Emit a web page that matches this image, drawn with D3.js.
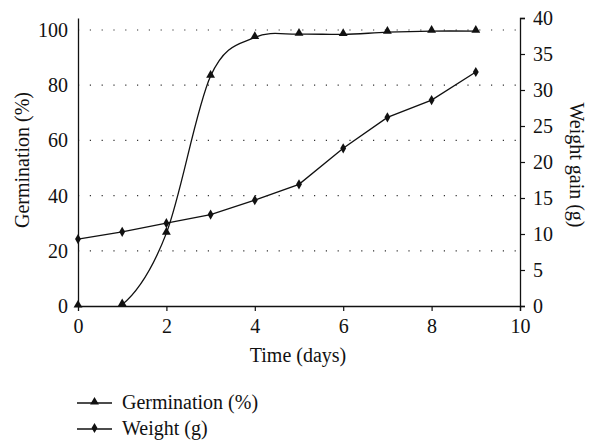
<!DOCTYPE html>
<html>
<head>
<meta charset="utf-8">
<script src="https://cdn.jsdelivr.net/npm/d3@7/dist/d3.min.js"></script>
<style>
  body { margin: 0; background: #fff; }
  text { font-family: "Liberation Serif", "DejaVu Serif", serif; fill: #111; }
</style>
</head>
<body>
<svg id="chart" width="589" height="441"></svg>
<script>
// data
var days = [0, 1, 2, 3, 4, 5, 6, 7, 8, 9];
var germination = [0, 0.5, 26.4, 83.3, 97.3, 98.5, 98.4, 99.2, 99.6, 99.6];
var weight = [9.3, 10.3, 11.5, 12.7, 14.7, 16.9, 21.9, 26.2, 28.6, 32.5];
var xTicks = [0, 2, 4, 6, 8, 10];
var leftTicks = [0, 20, 40, 60, 80, 100];
var rightTicks = [0, 5, 10, 15, 20, 25, 30, 35, 40];

var svg = d3.select('#chart');
var plotL = 78, plotR = 520, plotT = 18, plotB = 306;
var fs = 20;

var x = d3.scaleLinear().domain([0, 10]).range([plotL, plotR]);
var yL = d3.scaleLinear().domain([0, 104.35]).range([plotB, plotT]);
var yR = d3.scaleLinear().domain([0, 40]).range([plotB, plotT]);

svg.append('clipPath').attr('id', 'clip')
  .append('rect').attr('x', plotL).attr('y', 0)
  .attr('width', plotR - plotL).attr('height', plotB);

// dotted grid
svg.append('g').selectAll('line')
  .data(leftTicks.slice(1))
  .enter().append('line')
  .attr('x1', plotL).attr('x2', plotR)
  .attr('y1', function (d) { return yL(d); })
  .attr('y2', function (d) { return yL(d); })
  .attr('stroke', '#333')
  .attr('stroke-width', 1.2)
  .attr('stroke-dasharray', '1.2 10.6');

// axes
var gx = svg.append('g').attr('transform', 'translate(0,' + plotB + ')')
  .call(d3.axisBottom(x).tickValues(xTicks).tickSize(5).tickPadding(8));
var gl = svg.append('g').attr('transform', 'translate(' + plotL + ',0)')
  .call(d3.axisLeft(yL).tickValues(leftTicks).tickSize(0).tickPadding(10));
var gr = svg.append('g').attr('transform', 'translate(' + plotR + ',0)')
  .call(d3.axisRight(yR).tickValues(rightTicks).tickSize(5).tickPadding(8));

[gx, gl, gr].forEach(function (g) {
  g.selectAll('.domain').attr('stroke', '#111').attr('stroke-width', 1.3);
  g.selectAll('.tick line').attr('stroke', '#111').attr('stroke-width', 1.2);
  g.selectAll('text').attr('font-size', fs)
    .style('font-family', '"Liberation Serif", "DejaVu Serif", serif').attr('fill', '#111');
});
gx.selectAll('.tick').filter(function (d) { return d === 0; }).select('line').remove();

// axis titles
svg.append('text').attr('x', 298).attr('y', 362).attr('text-anchor', 'middle')
  .attr('font-size', fs).text('Time (days)');
svg.append('text').attr('transform', 'translate(29,160) rotate(-90)')
  .attr('text-anchor', 'middle').attr('font-size', fs).text('Germination (%)');
svg.append('text').attr('transform', 'translate(570,165) rotate(90)')
  .attr('text-anchor', 'middle').attr('font-size', fs).text('Weight gain (g)');

// series
var gData = days.map(function (d, i) { return [d, germination[i]]; });
var wData = days.map(function (d, i) { return [d, weight[i]]; });

var plot = svg.append('g');
plot.append('path').datum(gData)
  .attr('clip-path', 'url(#clip)')
  .attr('fill', 'none').attr('stroke', '#111').attr('stroke-width', 1.3)
  .attr('d', d3.line().x(function (d) { return x(d[0]); }).y(function (d) { return yL(d[1]); })
    .curve(d3.curveCatmullRom.alpha(0)));
plot.append('path').datum(wData)
  .attr('fill', 'none').attr('stroke', '#111').attr('stroke-width', 1.3)
  .attr('d', d3.line().x(function (d) { return x(d[0]); }).y(function (d) { return yR(d[1]); }));

var tri = d3.symbol().type(d3.symbolTriangle).size(34);
var dia = d3.symbol().type(d3.symbolDiamond).size(30);

plot.selectAll('.gm').data(gData).enter().append('path')
  .attr('transform', function (d) { return 'translate(' + x(d[0]) + ',' + (yL(d[1]) - 1) + ')'; })
  .attr('d', tri()).attr('fill', '#111');
plot.selectAll('.wm').data(wData).enter().append('path')
  .attr('transform', function (d) { return 'translate(' + x(d[0]) + ',' + yR(d[1]) + ')'; })
  .attr('d', dia()).attr('fill', '#111');

// legend
var legend = [['Germination (%)', tri()], ['Weight (g)', dia()]];
var lg = svg.append('g').selectAll('g').data(legend).enter().append('g')
  .attr('transform', function (d, i) { return 'translate(77,' + (403 + i * 26) + ')'; });
lg.append('line').attr('x1', 0).attr('x2', 35).attr('stroke', '#111').attr('stroke-width', 1.3);
lg.append('path').attr('transform', 'translate(17.5,-1)').attr('d', function (d) { return d[1]; }).attr('fill', '#111');
lg.append('text').attr('x', 45).attr('y', 6).attr('font-size', fs).text(function (d) { return d[0]; });
</script>
</body>
</html>
